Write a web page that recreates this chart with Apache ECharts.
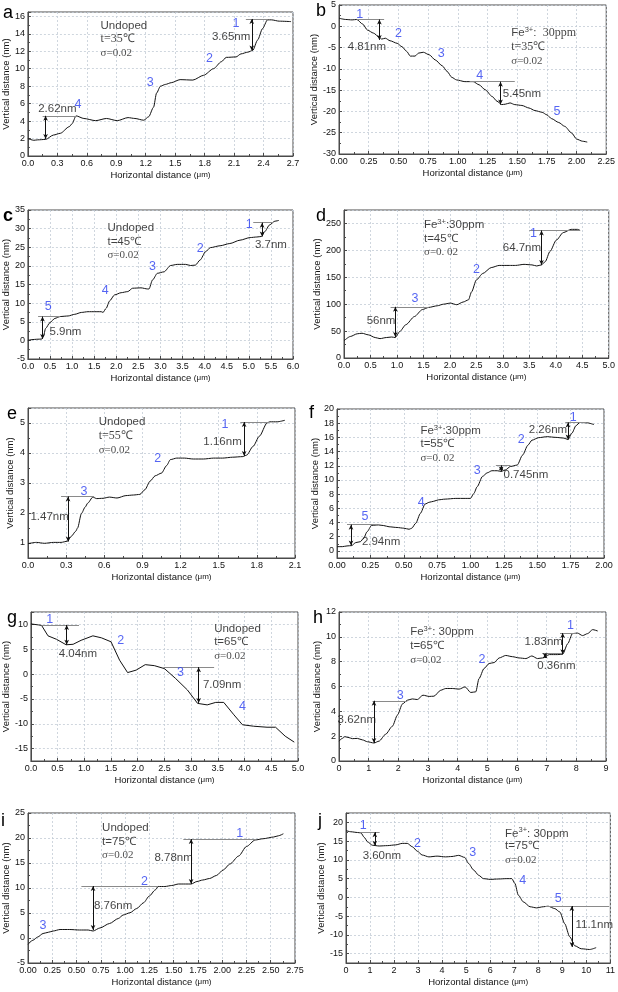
<!DOCTYPE html>
<html><head><meta charset="utf-8">
<script src="https://cdn.jsdelivr.net/npm/echarts@6/dist/echarts.min.js"></script>
<style>html,body{margin:0;padding:0;background:#fff}#c{width:618px;height:992px}</style>
</head><body><div id="c"></div>
<script>
// ---------- profile data (Horizontal distance µm, Vertical distance nm) ----------
const a_profile = [[0,2.0],[0.06,1.8],[0.1,1.85],[0.18,1.9],[0.26,2.4],[0.33,2.6],[0.42,3.35],[0.45,3.7],[0.49,4.6],[0.57,4.3],[0.69,4.05],[0.8,4.3],[0.91,4.05],[1.02,4.4],[1.09,4.3],[1.18,4.1],[1.23,4.5],[1.28,5.6],[1.31,7.2],[1.35,8.0],[1.4,8.2],[1.46,8.4],[1.55,8.75],[1.68,8.7],[1.79,9.25],[1.89,10.0],[1.97,10.8],[2.02,11.3],[2.12,11.35],[2.17,11.7],[2.24,11.9],[2.29,12.1],[2.34,13.3],[2.39,14.6],[2.44,15.6],[2.48,15.6],[2.56,15.45],[2.68,15.4]];
const b_profile = [[0,1.9],[0.056,1.6],[0.11,1.5],[0.15,1.6],[0.2,0.5],[0.24,-0.9],[0.29,-1.6],[0.34,-2.6],[0.36,-3.0],[0.39,-2.8],[0.43,-3.4],[0.49,-4.0],[0.53,-4.8],[0.57,-5.9],[0.6,-7.0],[0.64,-7.0],[0.67,-6.3],[0.71,-6.1],[0.76,-6.7],[0.81,-7.9],[0.87,-9.3],[0.91,-10.6],[0.95,-12.0],[0.99,-12.6],[1.06,-13.0],[1.13,-13.0],[1.18,-13.75],[1.23,-14.9],[1.29,-16.5],[1.33,-17.6],[1.37,-18.4],[1.4,-18.3],[1.44,-18.0],[1.48,-18.4],[1.54,-18.6],[1.6,-19.2],[1.65,-19.8],[1.71,-20.2],[1.75,-20.8],[1.79,-21.7],[1.85,-22.6],[1.9,-23.5],[1.96,-25.1],[2.0,-26.5],[2.05,-27.0],[2.09,-27.2]];
const c_profile = [[0,0],[0.09,0.2],[0.2,0.3],[0.31,0.35],[0.35,1.0],[0.4,3.2],[0.5,4.8],[0.61,5.9],[0.73,6.4],[0.91,6.55],[1.06,7.0],[1.21,7.5],[1.36,7.7],[1.51,7.7],[1.66,7.7],[1.7,7.5],[1.77,8.6],[1.85,10.6],[1.96,12.2],[2.11,12.8],[2.26,13.1],[2.37,14.0],[2.56,14.1],[2.71,13.8],[2.74,13.8],[2.82,16.2],[2.93,18.0],[3.08,18.4],[3.23,20.1],[3.38,20.4],[3.57,20.4],[3.68,20.1],[3.79,20.2],[3.9,21.6],[4.02,23.8],[4.13,24.9],[4.35,25.4],[4.57,26.0],[4.8,26.9],[5.03,27.6],[5.18,27.75],[5.29,27.9],[5.36,29.2],[5.47,31.0],[5.59,32.0],[5.68,32.2]];
const d_profile = [[0,32],[0.12,40],[0.25,45],[0.34,46],[0.46,43],[0.59,38],[0.68,36],[0.8,38],[0.9,39],[0.97,38],[1.05,49],[1.17,62],[1.33,77],[1.48,90],[1.6,94],[1.76,97],[1.88,100],[2.01,102],[2.13,99],[2.25,104],[2.35,108],[2.41,123],[2.5,145],[2.62,157],[2.78,168],[2.93,172],[3.12,172],[3.24,172],[3.4,174],[3.55,173],[3.64,171],[3.73,173],[3.8,179],[3.89,198],[4.01,219],[4.14,233],[4.29,239],[4.41,239],[4.46,237]];
const e_profile = [[0,0.98],[0.066,1.02],[0.13,0.99],[0.2,1.02],[0.26,1.02],[0.31,1.06],[0.34,1.22],[0.375,1.39],[0.39,1.5],[0.42,1.98],[0.45,2.2],[0.47,2.33],[0.51,2.53],[0.54,2.48],[0.59,2.49],[0.64,2.53],[0.7,2.5],[0.77,2.58],[0.83,2.6],[0.88,2.62],[0.92,2.78],[0.96,3.06],[1.0,3.24],[1.05,3.33],[1.09,3.58],[1.12,3.78],[1.17,3.83],[1.23,3.83],[1.3,3.8],[1.38,3.8],[1.46,3.83],[1.53,3.83],[1.61,3.86],[1.69,3.88],[1.72,3.93],[1.77,4.22],[1.82,4.56],[1.88,5.0],[1.9,5.04],[1.96,5.04],[2.02,5.09]];
const f_profile = [[0,0.6],[0.04,0.6],[0.075,0.7],[0.11,0.75],[0.14,1.17],[0.175,1.3],[0.2,1.8],[0.225,2.7],[0.26,3.6],[0.31,3.66],[0.35,3.57],[0.39,3.4],[0.45,3.3],[0.5,3.2],[0.54,3.05],[0.56,3.2],[0.59,3.9],[0.625,5.3],[0.66,6.6],[0.69,6.85],[0.725,7.0],[0.76,7.2],[0.81,7.3],[0.89,7.4],[0.96,7.4],[1.0,7.4],[1.025,8.1],[1.05,9.05],[1.09,10.5],[1.125,11.0],[1.16,11.3],[1.2,11.3],[1.23,11.2],[1.26,11.4],[1.3,11.9],[1.35,12.1],[1.39,13.5],[1.43,14.9],[1.46,15.6],[1.51,15.96],[1.575,16.1],[1.64,16.0],[1.7,15.9],[1.73,15.7],[1.76,16.6],[1.79,17.65],[1.82,18.1],[1.875,18.05],[1.925,17.8]];
const g_profile = [[0,10.1],[0.14,9.9],[0.2,9.8],[0.32,7.7],[0.48,7.0],[0.66,5.9],[0.79,6.0],[0.94,6.8],[1.16,7.7],[1.32,7.3],[1.5,6.5],[1.66,2.8],[1.81,0.3],[1.97,0.8],[2.14,1.9],[2.31,1.7],[2.5,1.1],[2.71,-0.9],[2.93,-3.2],[3.12,-5.9],[3.3,-6.2],[3.46,-5.7],[3.61,-5.7],[3.8,-8.2],[3.96,-10.2],[4.17,-10.5],[4.42,-10.7],[4.58,-10.7],[4.76,-12.5],[4.93,-13.7]];
const h_profile = [[0,1.6],[0.11,1.82],[0.2,1.96],[0.34,1.88],[0.45,1.8],[0.62,1.82],[0.79,1.7],[0.96,1.55],[1.18,1.45],[1.35,1.6],[1.57,2.15],[1.8,2.8],[1.97,3.7],[2.14,4.6],[2.31,4.9],[2.47,5.0],[2.64,4.95],[2.83,5.3],[3.04,5.2],[3.2,5.22],[3.43,5.7],[3.6,5.84],[3.82,5.84],[4.05,5.79],[4.25,5.97],[4.44,5.52],[4.61,5.57],[4.72,6.64],[4.89,7.45],[5.06,7.85],[5.23,7.93],[5.4,8.3],[5.62,8.5],[5.85,8.4],[6.07,8.3],[6.3,8.25],[6.5,8.46],[6.69,8.25],[6.86,8.3],[7.09,8.57],[7.37,8.57],[7.54,8.6],[7.71,9.45],[7.87,10.26],[8.04,10.3],[8.21,10.1],[8.38,10.26],[8.55,10.58],[8.72,10.47]];
const i_profile = [[0,-1.25],[0.05,-0.45],[0.1,0.2],[0.155,0.9],[0.21,1.15],[0.26,1.4],[0.33,1.7],[0.43,1.7],[0.53,1.6],[0.62,1.6],[0.67,1.4],[0.74,2.0],[0.84,2.9],[0.93,3.9],[0.98,4.6],[1.05,5.05],[1.12,5.9],[1.19,7.05],[1.25,8.4],[1.31,9.6],[1.34,10.3],[1.41,10.3],[1.48,10.5],[1.55,10.8],[1.62,10.8],[1.68,10.8],[1.74,11.3],[1.8,11.6],[1.87,11.9],[1.94,12.5],[2.01,13.6],[2.08,14.8],[2.17,16.4],[2.25,18.3],[2.34,19.6],[2.42,19.85],[2.53,20.2],[2.58,20.45],[2.63,20.85]];
const j_profile = [[0,17.8],[0.2,17.5],[0.48,17.3],[0.62,17.2],[0.76,16.0],[0.9,14.8],[1.1,13.9],[1.38,13.7],[1.72,13.8],[2.07,14.0],[2.34,14.4],[2.55,14.4],[2.76,13.5],[2.97,12.3],[3.17,11.3],[3.45,10.8],[3.79,11.0],[4.14,10.8],[4.41,10.9],[4.69,11.2],[4.94,10.65],[5.1,9.05],[5.31,7.3],[5.52,5.9],[5.72,5.0],[6.0,4.8],[6.34,4.9],[6.69,5.0],[6.9,5.0],[7.03,3.7],[7.17,0.6],[7.38,-1.2],[7.66,-2.5],[7.93,-2.8],[8.21,-2.5],[8.41,-2.35],[8.69,-3.0],[8.9,-3.9],[9.1,-7.0],[9.31,-10.5],[9.52,-12.9],[9.79,-13.7],[10.14,-13.9],[10.41,-13.4]];

// ---------- step measurements: reference lines [x1,x2,y], arrows [x,yTop,yBottom] ----------
const a_steps = {lines:[[0.15,0.5,4.6],[2.22,2.44,15.7]], arrows:[[0.18,4.6,1.95],[2.28,15.7,12.1]], labels:[[0.3,5.4,'2.62nm'],[2.07,13.6,'3.65nm']], nums:[[0.51,5.9,'4'],[2.12,15.2,'1'],[1.85,11.2,'2'],[1.245,8.4,'3']]};
const b_steps = {lines:[[0.15,0.38,1.6],[1.1,1.48,-13.0]], arrows:[[0.34,1.6,-3.2],[1.36,-13.0,-18.4]], labels:[[0.235,-4.8,'4.81nm'],[1.54,-15.9,'5.45nm']], nums:[[0.174,2.8,'1'],[0.5,-1.6,'2'],[0.86,-6.5,'3'],[1.185,-11.6,'4'],[1.835,-20,'5']]};
const c_steps = {lines:[[0.23,0.73,6.4],[5.1,5.55,31.6]], arrows:[[0.33,6.4,0.4],[5.3,31.6,27.9]], labels:[[0.85,2.3,'5.9nm'],[5.5,25.6,'3.7nm']], nums:[[5.01,31.15,'1'],[3.9,24.7,'2'],[2.82,19.8,'3'],[1.75,13.5,'4'],[0.46,9.0,'5']]};
const d_steps = {lines:[[0.88,1.6,95],[3.5,4.45,237]], arrows:[[0.97,95,39],[3.73,237,173]], labels:[[0.7,69,'56nm'],[3.36,205,'64.7nm']], nums:[[1.34,111,'3'],[2.5,163.6,'2'],[3.58,231.5,'1']]};
const e_steps = {lines:[[0.26,0.52,2.55],[1.67,1.9,5.03]], arrows:[[0.315,2.55,1.05],[1.7,5.03,3.9]], labels:[[0.17,1.87,'1.47nm'],[1.53,4.37,'1.16nm']], nums:[[0.44,2.7,'3'],[1.02,3.83,'2'],[1.55,4.94,'1']]};
const f_steps = {lines:[[0.075,0.3,3.7],[1.19,1.3,12.05],[1.71,1.87,18.1]], arrows:[[0.105,3.7,0.75],[1.23,12.05,11.2],[1.73,18.1,15.7]], labels:[[0.33,1.31,'2.94nm'],[1.415,10.7,'0.745nm'],[1.58,17.1,'2.26nm']], nums:[[0.21,4.84,'5'],[0.63,6.8,'4'],[1.05,11.27,'3'],[1.38,15.7,'2'],[1.77,18.8,'1']]};
const g_steps = {lines:[[0.2,0.9,9.9],[2.48,3.43,1.4]], arrows:[[0.67,9.9,5.9],[3.14,1.4,-5.8]], labels:[[0.88,4.0,'4.04nm'],[3.58,-2.2,'7.09nm']], nums:[[0.35,11.0,'1'],[1.68,6.8,'2'],[2.8,0.27,'3'],[3.96,-6.5,'4']]};
const h_steps = {lines:[[1.13,2.3,4.85],[7.45,8.0,10.3],[6.85,7.55,8.65]], arrows:[[1.18,4.85,1.45],[7.54,10.3,8.6],[6.95,8.65,8.3]], labels:[[0.6,3.3,'3.62nm'],[6.9,9.6,'1.83nm'],[7.33,7.7,'0.36nm']], nums:[[2.06,5.25,'3'],[4.82,8.2,'2'],[7.8,10.88,'1']]};
const i_steps = {lines:[[0.55,1.34,10.4],[1.6,2.35,19.8]], arrows:[[0.67,10.4,1.6],[1.68,19.8,10.8]], labels:[[0.877,6.38,'8.76nm'],[1.5,16.1,'8.78nm']], nums:[[2.18,20.8,'1'],[1.2,11.27,'2'],[0.155,2.5,'3']]};
const j_steps = {lines:[[0.6,1.4,17.4],[8.3,10.95,-2.3]], arrows:[[1.2,17.4,13.8],[9.4,-2.3,-13.2]], labels:[[1.49,11.0,'3.60nm'],[10.33,-7.2,'11.1nm']], nums:[[0.72,19.1,'1'],[2.97,14.4,'2'],[5.27,11.9,'3'],[7.35,4.6,'4'],[8.83,-0.3,'5']]};

// ---------- condition text ----------
const a_cond = ['Undoped','t=35℃','σ=0.02'];
const b_cond = ['Fe{sup|3+}:  {serif|30ppm}','t=35℃','σ=0.02'];
const c_cond = ['Undoped','t=45℃','σ=0.02'];
const d_cond = ['Fe{sup|3+}:30ppm','t=45℃','σ=0. 02'];
const e_cond = ['Undoped','t=55℃','σ=0.02'];
const f_cond = ['Fe{sup|3+}:30ppm','t=55℃','σ=0. 02'];
const g_cond = ['Undoped','t=65℃','σ=0.02'];
const h_cond = ['Fe{sup|3+}: 30ppm','t=65℃','σ=0.02'];
const i_cond = ['Undoped','t=75℃','σ=0.02'];
const j_cond = ['Fe{sup|3+}: 30ppm','t=75℃','σ=0.02'];

// ---------- layout (positions / styles) ----------
const SANS = 'Liberation Sans, Arial, Helvetica, sans-serif';
const SERIF = 'Liberation Serif, Times New Roman, serif';
const BLUE = '#2b3ff0';
const FRAME = '#4a4a4a';

const panels = [
 {L:'a', prof:a_profile, st:a_steps, cond:a_cond, box:[27,12,266,144], x:[0,2.7,0.3,1], y:{min:0,max:16.5,interval:2}, yl:[true,false], ct:[0.74,[14.97,13.37,11.8]], tSerif:true, let:[9,15]},
 {L:'b', prof:b_profile, st:b_steps, cond:b_cond, box:[339,5,268,149], x:[0,2.25,0.25,2], y:{min:-30,max:5,interval:5}, yl:[true,true], ct:[1.45,[-1.64,-4.9,-8.1]], tSerif:true, let:[322,13]},
 {L:'c', prof:c_profile, st:c_steps, cond:c_cond, box:[26,210,267,149], x:[0,6,0.5,1], y:{min:-5,max:35,interval:5}, yl:[true,true], ct:[1.8,[30.26,26.5,22.9]], tSerif:false, let:[9,218], bold:true},
 {L:'d', prof:d_profile, st:d_steps, cond:d_cond, box:[344,210,270,148], x:[0,5,0.5,1], y:{min:0,max:275,interval:50}, yl:[true,false], ct:[1.51,[248,222,197.5]], tSerif:false, let:[322,218]},
 {L:'e', prof:e_profile, st:e_steps, cond:e_cond, box:[28,408,267,150], x:[0,2.1,0.3,1], y:{min:0.5,max:5.5,splitNumber:5}, yl:[false,false], ct:[0.556,[5.03,4.56,4.11]], tSerif:true, let:[13,416]},
 {L:'f', prof:f_profile, st:f_steps, cond:f_cond, box:[337,409,267,149], x:[0,2,0.25,2], y:{min:-1,max:20,splitNumber:10}, yl:[false,true], ct:[0.625,[16.95,15.07,13.05]], tSerif:false, let:[315,415]},
 {L:'g', prof:g_profile, st:g_steps, cond:g_cond, box:[29,612,269,149], x:[0,5,0.5,1], y:{min:-17.5,max:12.5,splitNumber:6}, yl:[false,false], ct:[3.43,[9.13,6.47,3.67]], tSerif:false, let:[13,620], noSmooth:true},
 {L:'h', prof:h_profile, st:h_steps, cond:h_cond, box:[339,612,267,149], x:[0,9,1,0], y:{min:0,max:12,interval:2}, yl:[true,true], ct:[2.4,[10.4,9.27,8.1]], tSerif:false, let:[319,620]},
 {L:'i', prof:i_profile, st:i_steps, cond:i_cond, box:[28,813,267,150], x:[0,2.75,0.25,2], y:{min:-5,max:25,interval:5}, yl:[true,true], ct:[0.763,[22,19.3,16.6]], tSerif:false, let:[7,823]},
 {L:'j', prof:j_profile, st:j_steps, cond:j_cond, box:[346,813,266,150], x:[0,11,1,0], y:{min:-17.5,max:22.5,splitNumber:8}, yl:[false,false], ct:[6.62,[17.06,13.7,9.94]], tSerif:false, let:[324,823]}
];

const grids=[], xAxes=[], yAxes=[], series=[], graphics=[];
const splitLine = {show:true, lineStyle:{type:[2,2], color:'#c3ccd6', width:0.8}};
panels.forEach((p, k) => {
  grids.push({left:p.box[0], top:p.box[1], width:p.box[2], height:p.box[3], show:true, borderColor:FRAME, borderWidth:1, containLabel:false});
  xAxes.push({type:'value', gridIndex:k, min:p.x[0], max:p.x[1], interval:p.x[2],
    axisLine:{show:true, onZero:false, lineStyle:{color:FRAME}},
    axisTick:{show:true, inside:true, length:3, lineStyle:{color:FRAME}},
    minorTick:{show:true, splitNumber:2, length:2, lineStyle:{color:FRAME}},
    axisLabel:{fontFamily:SANS, fontSize:9, color:'#111', margin:3, formatter:v=>v.toFixed(p.x[3]), showMinLabel:true, showMaxLabel:true},
    splitLine:splitLine,
    name:'Horizontal distance {u|(μm)}', nameLocation:'middle', nameGap:14,
    nameTextStyle:{fontFamily:SANS, fontSize:9.5, color:'#111', rich:{u:{fontFamily:SANS, fontSize:8, color:'#111'}}}
  });
  const ya = {type:'value', gridIndex:k, min:p.y.min, max:p.y.max,
    axisLine:{show:true, onZero:false, lineStyle:{color:FRAME}},
    axisTick:{show:true, inside:true, length:3, lineStyle:{color:FRAME}},
    minorTick:{show:true, splitNumber:2, length:2, lineStyle:{color:FRAME}},
    axisLabel:{fontFamily:SANS, fontSize:9, color:'#111', margin:3, showMinLabel:p.yl[0], showMaxLabel:p.yl[1],
      formatter:v=> (Math.abs(v-Math.round(v))<1e-9 ? String(Math.round(v)) : '')},
    splitLine:splitLine,
    name:'Vertical distance (nm)', nameLocation:'middle', nameGap: (p.y.max>100||p.y.min<=-10?18:13),
    nameTextStyle:{fontFamily:SANS, fontSize:9.5, color:'#111'}
  };
  if (p.y.interval) ya.interval = p.y.interval; else ya.splitNumber = p.y.splitNumber;
  yAxes.push(ya);

  const ml = [];
  p.st.lines.forEach(l => ml.push([{coord:[l[0],l[2]], symbol:'none', lineStyle:{color:'#8a8a8a', width:1, type:'solid'}},{coord:[l[1],l[2]], symbol:'none'}]));
  p.st.arrows.forEach(a => ml.push([{coord:[a[0],a[1]], symbol:'arrow', symbolSize:[3.5,5], lineStyle:{color:'#111', width:1, type:'solid'}},{coord:[a[0],a[2]], symbol:'arrow', symbolSize:[3.5,5]}]));

  series.push({type:'line', xAxisIndex:k, yAxisIndex:k, data:p.prof, showSymbol:false, symbol:'none',
    smooth: p.noSmooth ? false : 0.25, smoothMonotone:'x', silent:true, animation:false,
    lineStyle:{color:'#111', width:1},
    markLine:{silent:true, animation:false, label:{show:false}, emphasis:{disabled:true}, symbol:['none','none'], data:ml}
  });

  const txt = [];
  p.st.labels.forEach(t => txt.push({value:[t[0],t[1]], label:{formatter:t[2], fontFamily:SANS, fontSize:11.5, color:'#111', align:'center'}}));
  p.st.nums.forEach(t => txt.push({value:[t[0],t[1]], label:{formatter:t[2], fontFamily:SANS, fontSize:12.5, color:BLUE, align:'center'}}));
  const richCommon = {sup:{fontFamily:SANS, fontSize:7.5, color:'#111', verticalAlign:'top', lineHeight:8},
                      serif:{fontFamily:SERIF, fontSize:12, color:'#111'}};
  const ysC = p.ct[1];
  txt.push({value:[p.ct[0], ysC[0]], label:{formatter:p.cond[0], fontFamily:SANS, fontSize:11.5, color:'#111', align:'left', lineHeight:14, rich:richCommon}});
  txt.push({value:[p.ct[0], ysC[1]], label:{formatter:p.cond[1], fontFamily:p.tSerif?SERIF:SANS, fontSize:p.tSerif?12:11.5, color:'#111', align:'left'}});
  txt.push({value:[p.ct[0], ysC[2]], label:{formatter:p.cond[2], fontFamily:SERIF, fontSize:11, color:'#222', align:'left'}});
  series.push({type:'scatter', xAxisIndex:k, yAxisIndex:k, symbol:'circle', symbolSize:1, silent:true, animation:false, clip:false,
    itemStyle:{color:'rgba(0,0,0,0)'}, label:{show:true, position:'inside', verticalAlign:'middle'}, labelLayout:{hideOverlap:false}, data:txt, z:5});

  graphics.push({type:'text', left:p.let[0]-6, top:p.let[1]-11, style:{text:p.L, font:(p.bold?'bold ':'')+'18px '+SANS, fill:'#000'}});
});

const chart = echarts.init(document.getElementById('c'), null, {renderer:'canvas'});
chart.setOption({backgroundColor:'#fff', animation:false, grid:grids, xAxis:xAxes, yAxis:yAxes, series:series, graphic:graphics});
</script></body></html>
